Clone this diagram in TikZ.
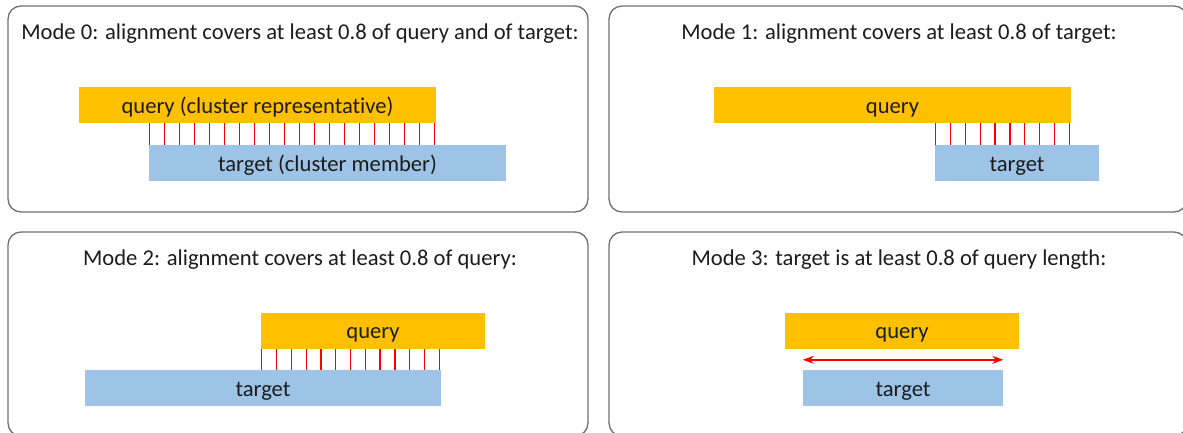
\documentclass[tikz,border=0pt]{standalone}
\usepackage{fontspec}
\setmainfont{Carlito}[RawFeature=-liga]
\usetikzlibrary{arrows.meta}
\usetikzlibrary{calc}
\definecolor{qcol}{HTML}{FFC000}% query
\definecolor{tcol}{HTML}{9DC3E6}% target
\definecolor{framecol}{HTML}{707070}
\definecolor{txtcol}{HTML}{1C1C1C}
\newcommand{\txtsize}{\fontsize{22.6}{26}\selectfont}

\begin{document}
\begin{tikzpicture}[x=1pt, y=-1pt, line join=round, line cap=round, >={Stealth[length=11pt,width=8pt]},
    panel/.style={draw=framecol, line width=1.3pt, rounded corners=13pt},
    title/.style={text=txtcol, font=\txtsize, inner sep=0pt, anchor=base},
    qbar/.style={fill=qcol, text=txtcol, font=\txtsize, inner sep=0pt, minimum height=36pt, text height=16pt, text depth=0pt},
    tbar/.style={fill=tcol, text=txtcol, font=\txtsize, inner sep=0pt, minimum height=36pt, text height=16pt, text depth=0pt},
    tick/.style={red, line width=1.3pt, line cap=butt}]
  \useasboundingbox (0,0) rectangle (1183,432);
  \clip (0,0) rectangle (1183,432);
  % khung
  \draw[panel] (8,6) rectangle (588,212);
  \draw[panel] (609,6) rectangle (1187,212);
  \draw[panel] (8,232) rectangle (588,436);
  \draw[panel] (609,232) rectangle (1187,436);
  % tieu de
  \node[title] (m0) at (300,39) {Mode 0: alignment covers at least 0.8 of query and of target:};
  \node[title] (m1) at (899,39) {Mode 1: alignment covers at least 0.8 of target:};
  \node[title] (m2) at (300,265) {Mode 2: alignment covers at least 0.8 of query:};
  \node[title] (m3) at (899,265) {Mode 3: target is at least 0.8 of query length:};
  % thanh query / target
  \node[qbar, minimum width=357pt] (q0) at (257.5,105) {query (cluster representative)};
  \node[tbar, minimum width=357pt] (t0) at (327.5,163) {target (cluster member)};
  \node[qbar, minimum width=357pt] (q1) at (892.5,105) {query};
  \node[tbar, minimum width=164pt] (t1) at (1017,163) {target};
  \node[qbar, minimum width=224pt] (q2) at (373,330.5) {query};
  \node[tbar, minimum width=356pt] (t2) at (263,388) {target};
  \node[qbar, minimum width=234pt] (q3) at (902,330.5) {query};
  \node[tbar, minimum width=200pt] (t3) at (903,388) {target};
  % vach noi
  \foreach \i/\s/\e/\n in {0/t/q/19, 1/t/q/9, 2/q/t/12}{
      \coordinate (A) at (\s\i.west |- t\i.north);
      \coordinate (B) at (\e\i.east |- t\i.north);
      \foreach \k in {0,...,\n}
      \draw[tick] ($(A)!\k/\n!(B)+(1,0)-\k/\n*(3,0)$) coordinate (c) -- (c |- q\i.south);
    }
  % mui ten
  \coordinate (L) at ($(t3.north west)+(0,-10)$);
  \coordinate (R) at ($(t3.north east)+(0,-10)$);
  \draw[<->, red, line width=1.4pt] (L) -- (R);
\end{tikzpicture}
\end{document}
